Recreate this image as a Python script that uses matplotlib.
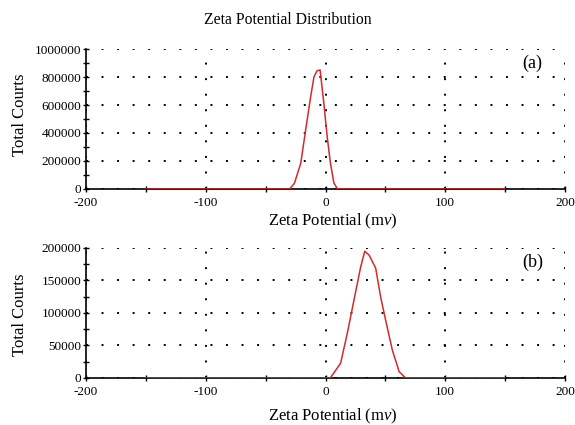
import numpy as np
import matplotlib
matplotlib.use("Agg")
import matplotlib.pyplot as plt
from matplotlib.ticker import MultipleLocator

plt.rcParams['font.family'] = ['Liberation Serif', 'DejaVu Serif']
plt.rcParams['mathtext.fontset'] = 'custom'
plt.rcParams['mathtext.rm'] = 'Liberation Serif'
plt.rcParams['mathtext.it'] = 'Liberation Serif:italic'
plt.rcParams['axes.unicode_minus'] = False

# (a) 分布データ
zeta_a = [-150, -30, -26, -20.7, -16.6, -12.4, -9.6, -7, -4.5, -1.4, 1.4, 4.1, 7, 10, 150]
count_a = [0, 0, 40000, 183000, 421000, 659000, 802000, 845000, 850000, 614000,
           374000, 185000, 43000, 0, 0]

# (b) 分布データ
zeta_b = [-150, 4, 12.6, 18.2, 23.8, 29.4, 32.8, 36.4, 41.9, 46, 50.2, 55.8, 61.5, 67, 150]
count_b = [0, 0, 22600, 68800, 120000, 171000, 195000, 189000, 169000, 125000,
           89000, 43000, 9700, 0, 0]

x_ticks = [-200, -100, 0, 100, 200]

fig = plt.figure(figsize=(5.75, 4.25), dpi=100)
fig.text(0.5, 0.952, "Zeta Potential Distribution", ha='center', va='center', fontsize=11.3)

ax1 = fig.add_axes([0.1496, 0.5553, 0.833, 0.3294])
ax2 = fig.add_axes([0.1496, 0.1106, 0.833, 0.306])

def setup(ax, x, y, ymax, ystep, label, lab_y, xlab_y):
    ax.plot(x, y, color='#d42a2a', lw=1.1, zorder=3)
    ax.set_xlim(-200, 200)
    ax.set_ylim(0, ymax)
    ax.set_xticks(x_ticks)
    ax.xaxis.set_minor_locator(MultipleLocator(50))
    ax.yaxis.set_major_locator(MultipleLocator(ystep))
    ax.yaxis.set_minor_locator(MultipleLocator(ystep / 2))
    ax.ticklabel_format(axis='y', style='plain')
    for s in ['top', 'right']:
        ax.spines[s].set_visible(False)
    ax.spines['left'].set_linewidth(1.2)
    ax.spines['bottom'].set_linewidth(1.2)
    ax.tick_params(which='both', direction='inout', labelsize=9.5)
    ax.tick_params(axis='y', pad=1)
    ax.tick_params(axis='x', pad=3)
    ax.tick_params(which='major', length=5, width=1)
    ax.tick_params(which='minor', length=4, width=1)
    ax.grid(True, which='major', color='black', lw=1.4, linestyle=(0, (1, 7)))
    ax.set_ylabel("Total Courts", fontsize=12)
    ax.yaxis.set_label_coords(-0.121, lab_y)
    ax.set_xlabel(r"Zeta Potential (m$\it{v}$)", fontsize=12)
    ax.xaxis.set_label_coords(0.516, xlab_y)
    ax.text(0.91, label[1], label[0], transform=ax.transAxes, fontsize=13,
            ha='left', va='center')

setup(ax1, zeta_a, count_a, 1000000, 200000, ("(a)", 0.90), 0.53, -0.164)
setup(ax2, zeta_b, count_b, 200000, 50000, ("(b)", 0.89), 0.49, -0.218)

fig.savefig("out.png", dpi=100)
